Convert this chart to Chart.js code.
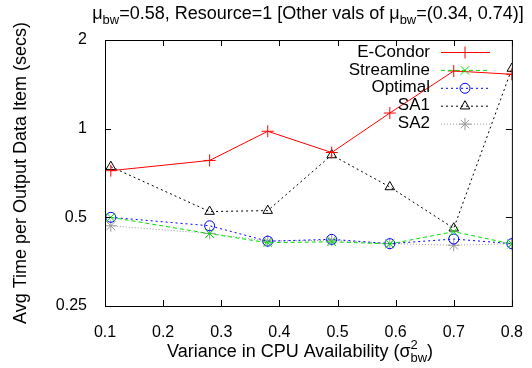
<!DOCTYPE html>
<html lang="en">
<head>
  <meta charset="UTF-8" />
  <title>Avg Time per Output Data Item</title>
  <script src="https://cdn.jsdelivr.net/npm/chart.js"></script>
  <style>
    body { margin: 0; background: #fff; }
    canvas { display: block; }
  </style>
</head>
<body>
<canvas id="timeChart" width="532" height="368"></canvas>

<script>
  // values
  const xValues = [0.11, 0.28, 0.38, 0.49, 0.59, 0.70, 0.80];
  const eCondor = [0.72, 0.78, 0.98, 0.83, 1.13, 1.57, 1.53];
  const streamline = [0.50, 0.44, 0.41, 0.413, 0.406, 0.447, 0.406];
  const optimal = [0.50, 0.468, 0.415, 0.421, 0.407, 0.422, 0.407];
  const sa1 = [0.743, 0.523, 0.527, 0.814, 0.634, 0.459, 1.60];
  const sa2 = [0.468, 0.441, 0.415, 0.418, 0.407, 0.402, 0.407];
  const yTicks = [0.25, 0.5, 1, 2];
  const xTicks = [0.1, 0.2, 0.3, 0.4, 0.5, 0.6, 0.7, 0.8];

  const FONT = "'Liberation Sans', Arial, sans-serif";
  const pts = arr => arr.map((v, i) => ({ x: xValues[i], y: v }));

  // draw a line of text with sub/superscript pieces, centred on cx
  function richText(ctx, parts, cx, y, size) {
    const small = size * 0.72;
    const widthOf = p => {
      if (p.stackWith) {
        ctx.font = small + "px " + FONT;
        return Math.max(ctx.measureText(p.t).width, ctx.measureText(p.stackWith).width);
      }
      ctx.font = (p.sub ? small : size) + "px " + FONT;
      return ctx.measureText(p.t).width;
    };
    const widths = parts.map(widthOf);
    let x = cx - widths.reduce((s, w) => s + w, 0) / 2;
    ctx.textAlign = "left";
    ctx.textBaseline = "alphabetic";
    parts.forEach((p, i) => {
      if (p.stackWith) {
        ctx.font = small + "px " + FONT;
        ctx.fillText(p.t, x, y - size * 0.45);
        ctx.fillText(p.stackWith, x, y + size * 0.3);
      } else {
        ctx.font = (p.sub ? small : size) + "px " + FONT;
        ctx.fillText(p.t, x, y + (p.sub ? size * 0.3 : 0));
      }
      x += widths[i];
    });
  }

  const gnuplotFrame = {
    id: "gnuplotFrame",
    afterDraw(chart) {
      const { ctx, chartArea: a, scales } = chart;
      ctx.save();
      ctx.strokeStyle = "#000";
      ctx.lineWidth = 1;
      ctx.setLineDash([]);
      ctx.strokeRect(a.left + 0.5, a.top + 0.5, a.right - a.left, a.bottom - a.top);
      ctx.beginPath();
      xTicks.forEach(v => {
        const px = Math.round(scales.x.getPixelForValue(v)) + 0.5;
        ctx.moveTo(px, a.bottom); ctx.lineTo(px, a.bottom - 6);
        ctx.moveTo(px, a.top); ctx.lineTo(px, a.top + 6);
      });
      yTicks.forEach(v => {
        const py = Math.round(scales.y.getPixelForValue(v)) + 0.5;
        ctx.moveTo(a.left, py); ctx.lineTo(a.left + 6, py);
        ctx.moveTo(a.right, py); ctx.lineTo(a.right - 6, py);
      });
      ctx.stroke();

      ctx.fillStyle = "#000";
      // title
      richText(ctx, [
        { t: "\u03bc" }, { t: "bw", sub: true },
        { t: "=0.58, Resource=1 [Other vals of " },
        { t: "\u03bc" }, { t: "bw", sub: true },
        { t: "=(0.34, 0.74)]" }
      ], 308, 19, 18);
      // x axis title
      richText(ctx, [
        { t: "Variance in CPU Availability (\u03c3" },
        { t: "2", stackWith: "bw" },
        { t: ")" }
      ], 300, 357, 18);
      // y axis title
      ctx.save();
      ctx.translate(21, 173);
      ctx.rotate(-Math.PI / 2);
      ctx.font = "18px " + FONT;
      ctx.textAlign = "center";
      ctx.textBaseline = "middle";
      ctx.fillText("Avg Time per Output Data Item (secs)", 0, 0);
      ctx.restore();

      // legend: text right aligned, then line sample with marker
      ctx.font = "17px " + FONT;
      chart.data.datasets.forEach((ds, i) => {
        const y = 52 + i * 17.9;
        ctx.textAlign = "right";
        ctx.textBaseline = "middle";
        ctx.fillStyle = "#000";
        ctx.fillText(ds.label, 430, y);
        ctx.strokeStyle = ds.borderColor;
        ctx.lineWidth = ds.borderWidth;
        ctx.setLineDash(ds.borderDash || []);
        ctx.beginPath();
        ctx.moveTo(441, y + 0.5); ctx.lineTo(490, y + 0.5);
        ctx.stroke();
        ctx.setLineDash([]);
        ctx.fillStyle = "rgba(0,0,0,0)";
        Chart.helpers.drawPoint(ctx, {
          pointStyle: ds.pointStyle, radius: ds.pointRadius, rotation: 0, borderWidth: 1
        }, 465, y + 0.5);
      });
      ctx.restore();
    }
  };

  new Chart(document.getElementById("timeChart"), {
    type: "line",
    data: {
      datasets: [
        { label: "E-Condor", data: pts(eCondor), borderColor: "#ff0000", pointStyle: "cross", pointRadius: 6 },
        { label: "Streamline", data: pts(streamline), borderColor: "#00e000", borderDash: [4, 3], pointStyle: "crossRot", pointRadius: 6 },
        { label: "Optimal", data: pts(optimal), borderColor: "#0000ff", borderDash: [2, 3], pointStyle: "circle", pointRadius: 5 },
        { label: "SA1", data: pts(sa1), borderColor: "#000000", borderDash: [2, 3], pointStyle: "triangle", pointRadius: 5.5 },
        { label: "SA2", data: pts(sa2), borderColor: "#999999", borderDash: [1, 2], pointStyle: "star", pointRadius: 6 }
      ].map(ds => Object.assign({
        borderWidth: 1, pointBorderColor: ds.borderColor, pointBackgroundColor: "rgba(0,0,0,0)",
        pointBorderWidth: 1, fill: false, tension: 0
      }, ds))
    },
    options: {
      responsive: false,
      animation: false,
      layout: { padding: { top: 40, right: 20, left: 0, bottom: 0 } },
      plugins: { legend: { display: false }, title: { display: false }, tooltip: { enabled: false } },
      scales: {
        x: {
          type: "linear", min: 0.1, max: 0.8,
          grid: { display: false }, border: { display: false },
          afterBuildTicks: s => { s.ticks = xTicks.map(v => ({ value: v })); },
          afterFit: s => { s.height = 62; },
          ticks: { color: "#000", font: { size: 16, family: FONT }, padding: 9, maxRotation: 0,
                   callback: v => v.toFixed(1) }
        },
        y: {
          type: "logarithmic", min: 0.25, max: 2,
          grid: { display: false }, border: { display: false },
          afterBuildTicks: s => { s.ticks = yTicks.map(v => ({ value: v })); },
          afterFit: s => { s.width = 105; },
          ticks: { color: "#000", font: { size: 16, family: FONT }, padding: 10,
                   callback: v => String(v) }
        }
      }
    },
    plugins: [gnuplotFrame]
  });
</script>
</body>
</html>
